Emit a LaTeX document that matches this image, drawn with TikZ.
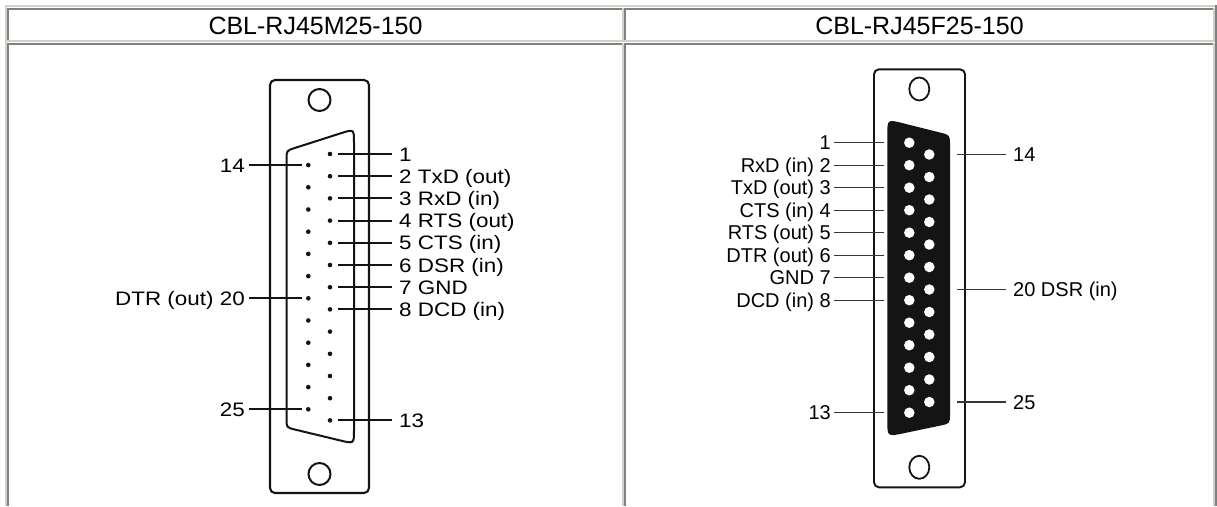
\documentclass[tikz,border=0pt]{standalone}
\usepackage{fontspec}
\setmainfont{Liberation Sans}
\newfontfamily\lblA[FakeStretch=1.15]{Liberation Sans}
\definecolor{lite}{HTML}{D4D0C8}
\definecolor{dark}{HTML}{808080}
\definecolor{ink}{HTML}{141414}
\begin{document}
\begin{tikzpicture}[x=1pt,y=-1pt,
  hdr/.style={inner sep=0pt,anchor=center,font=\fontsize{25}{25}\selectfont},
  lblL/.style={inner sep=0pt,font=\lblA\fontsize{19.5}{19.5}\selectfont},
  lblR/.style={inner sep=0pt,font=\fontsize{20}{20}\selectfont},
  bodyA/.style={draw=ink,line width=2.1pt,rounded corners=5pt},
  bodyB/.style={draw=ink,line width=1.9pt,rounded corners=5pt},
  leadA/.style={draw=ink,line width=1.9pt},
  leadB/.style={draw=ink!85,line width=1.4pt},
  mpin/.style={circle,fill=ink,inner sep=0pt,minimum size=4.6pt},
  fpin/.style={circle,fill=white,inner sep=0pt,minimum size=10.5pt}]
\useasboundingbox (0,0) rectangle (1217,506);
\fill[white] (0,0) rectangle (1217,506);
% ---- table borders
\fill[lite] (5,5) rectangle (1215,7);
\fill[lite] (5,5) rectangle (7,506);
\fill[dark] (1215,5) rectangle (1217,506);
% header cells
\fill[dark] (7,8) rectangle (623,10);
\fill[dark] (7,8) rectangle (9,42);
\fill[lite] (7,40) rectangle (623,42);
\fill[lite] (622,8) rectangle (624,42);
\fill[dark] (624,8) rectangle (1214,10);
\fill[dark] (624,8) rectangle (626,42);
\fill[lite] (624,40) rectangle (1214,42);
\fill[lite] (1213,8) rectangle (1215,42);
% body cells
\fill[dark] (7,43) rectangle (623,45);
\fill[dark] (7,43) rectangle (9,506);
\fill[lite] (622,43) rectangle (624,506);
\fill[dark] (624,43) rectangle (1214,45);
\fill[dark] (624,43) rectangle (626,506);
\fill[lite] (1213,43) rectangle (1215,506);
% ---- headers
\node[hdr] (h1) at (315.5,25.5) {CBL-RJ45M25-150};
\node[hdr] (h2) at (919.5,25.5) {CBL-RJ45F25-150};

% ===== left connector (male, outline)
\draw[bodyA] (270,80) rectangle (369,493);
\draw[ink,line width=2pt] (319.5,100) circle[radius=11pt];
\draw[ink,line width=2pt] (319.5,474) circle[radius=11pt];
\draw[ink,line width=2pt] (286.5,159.6) .. controls (286.5,150.6) .. (295.1,147.9)
  -- (340.7,133.3) .. controls (354,129) .. (354,143)
  -- (354,429.8) .. controls (354,443.8) .. (340.4,440.5)
  -- (295.2,429.6) .. controls (286.5,427.5) .. (286.5,418.5) -- cycle;
\foreach \i in {1,...,13}
  \node[mpin] (mp\i) at (330,{154+22.2*(\i-1)}) {};
\foreach \j in {14,...,25}
  \node[mpin] (mp\j) at (308.3,{165.1+22.2*(\j-14)}) {};
\foreach \i/\t in {1/1,2/{2 TxD (out)},3/{3 RxD (in)},4/{4 RTS (out)},5/{5 CTS (in)},6/{6 DSR (in)},7/{7 GND},8/{8 DCD (in)},13/13}{
  \coordinate (ma\i) at (338,{154+22.2*(\i-1)});
  \coordinate (mb\i) at (391.7,{154+22.2*(\i-1)});
  \draw[leadA] (ma\i) -- (mb\i);
  \node[lblL,anchor=base west] (ml\i) at (399,{154+22.2*(\i-1)+7}) {\t};
}
\foreach \j/\t in {14/14,20/{DTR (out) 20},25/25}{
  \coordinate (ma\j) at (301.5,{165.1+22.2*(\j-14)});
  \coordinate (mb\j) at (249,{165.1+22.2*(\j-14)});
  \draw[leadA] (ma\j) -- (mb\j);
  \node[lblL,anchor=base east] (ml\j) at (245,{165.1+22.2*(\j-14)+7}) {\t};
}

% ===== right connector (female, filled)
\draw[bodyB] (874,69.3) rectangle (965,487.3);
\draw[ink,line width=1.8pt] (919.3,89) ellipse[x radius=10pt,y radius=11.5pt];
\draw[ink,line width=1.8pt] (919.3,467.3) ellipse[x radius=10pt,y radius=11.5pt];
\fill[ink] (887.3,135.3) .. controls (887.3,119.3) .. (902.8,123.2)
  -- (940.3,132.6) .. controls (950,135) .. (950,145)
  -- (950,413.6) .. controls (950,423.6) .. (940.2,425.6)
  -- (903,433.4) .. controls (887.3,436.6) .. (887.3,420.6) -- cycle;
\foreach \i in {1,...,13}
  \node[fpin] (fp\i) at (909.3,{142.7+22.5*(\i-1)}) {};
\foreach \j in {14,...,25}
  \node[fpin] (fp\j) at (929.3,{154.5+22.5*(\j-14)}) {};
\foreach \i/\t in {1/1,2/{RxD (in) 2},3/{TxD (out) 3},4/{CTS (in) 4},5/{RTS (out) 5},6/{DTR (out) 6},7/{GND 7},8/{DCD (in) 8},13/13}{
  \coordinate (fa\i) at (884,{142.7+22.5*(\i-1)});
  \coordinate (fb\i) at (834,{142.7+22.5*(\i-1)});
  \draw[leadB] (fa\i) -- (fb\i);
  \node[lblR,anchor=base east] (fl\i) at (831,{142.7+22.5*(\i-1)+7}) {\t};
}
\foreach \j/\t in {14/14,20/{20 DSR (in)},25/25}{
  \coordinate (fa\j) at (957.3,{154.5+22.5*(\j-14)});
  \coordinate (fb\j) at (1006,{154.5+22.5*(\j-14)});
  \draw[leadB] (fa\j) -- (fb\j);
  \node[lblR,anchor=base west] (fl\j) at (1013,{154.5+22.5*(\j-14)+7}) {\t};
}
\end{tikzpicture}
\end{document}
